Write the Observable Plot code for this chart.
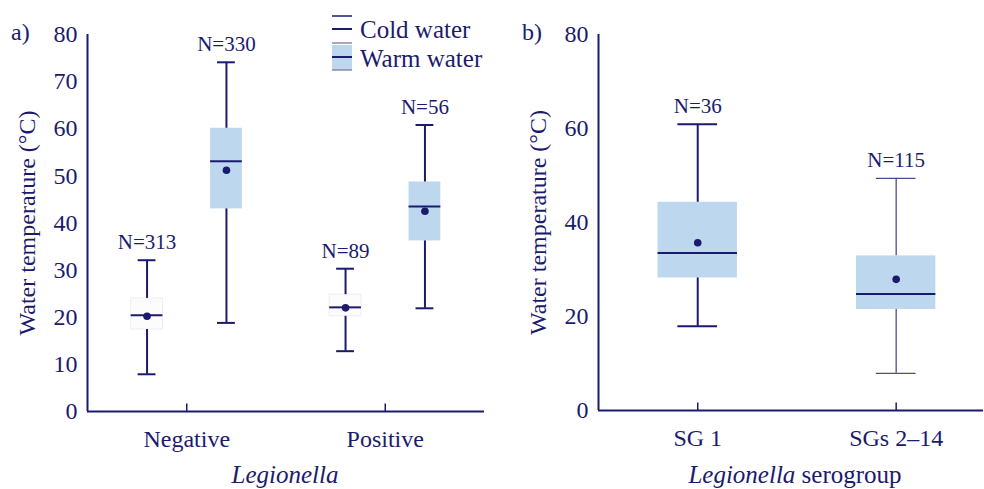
<!DOCTYPE html>
<html>
<head>
<meta charset="utf-8">
<script src="https://cdn.jsdelivr.net/npm/d3@7"></script>
<script src="https://cdn.jsdelivr.net/npm/@observablehq/plot@0.6"></script>
<style>
  html, body { margin: 0; padding: 0; background: #fff; }
  #wrap { position: relative; width: 984px; height: 489px; overflow: hidden; }
  #wrap svg, #wrap svg text, #wrap svg tspan { font-family: "Liberation Serif", "Times New Roman", serif !important; }
  #pa, #pb { position: absolute; top: 0; }
  #pa { left: 0; }
  #pb { left: 490px; }
  #overlay { position: absolute; left: 0; top: 0; pointer-events: none; }
</style>
</head>
<body>
<div id="wrap">
  <div id="pa"></div>
  <div id="pb"></div>
  <svg id="overlay" width="984" height="489"></svg>
</div>
<script>
// ---------- Data: panel a (Legionella negative / positive) ----------
const aCategories = ["Negative", "Positive"];
const aTicks = [0, 10, 20, 30, 40, 50, 60, 70, 80];
// Cold water
const coldMin    = [7.9, 12.8];
const coldQ1     = [17.4, 20.2];
const coldMedian = [20.4, 22.1];
const coldMean   = [20.2, 22.0];
const coldQ3     = [24.0, 24.8];
const coldMax    = [32.1, 30.3];
const coldN      = [313, 89];
// Warm water
const warmMin    = [18.8, 21.9];
const warmQ1     = [43.0, 36.2];
const warmMedian = [53.1, 43.5];
const warmMean   = [51.2, 42.5];
const warmQ3     = [60.1, 48.7];
const warmMax    = [74.1, 60.8];
const warmN      = [330, 56];

// ---------- Data: panel b (serogroup) ----------
const sgCategories = ["SG 1", "SGs 2–14"];
const sgTicks = [0, 20, 40, 60, 80];
const sgMin    = [17.9, 7.9];
const sgQ1     = [28.2, 21.5];
const sgMedian = [33.5, 24.8];
const sgMean   = [35.7, 27.9];
const sgQ3     = [44.3, 32.9];
const sgMax    = [60.9, 49.4];
const sgN      = [36, 115];

const ink = "#1b1b6e";
const blue = "#bdd7ee";
const font = "Liberation Serif";

// ---------- build rows ----------
const aRows = [];
aCategories.forEach((c, i) => {
  aRows.push({cat: c, i, group: "Cold water", off: -0.2, min: coldMin[i], q1: coldQ1[i], median: coldMedian[i], mean: coldMean[i], q3: coldQ3[i], max: coldMax[i], n: coldN[i]});
  aRows.push({cat: c, i, group: "Warm water", off: 0.2, min: warmMin[i], q1: warmQ1[i], median: warmMedian[i], mean: warmMean[i], q3: warmQ3[i], max: warmMax[i], n: warmN[i]});
});
const bRows = sgCategories.map((c, i) => ({cat: c, i, off: 0, min: sgMin[i], q1: sgQ1[i], median: sgMedian[i], mean: sgMean[i], q3: sgQ3[i], max: sgMax[i], n: sgN[i]}));

function boxMarks(rows, hw, cw, opts) {
  const cx = d => d.i + d.off;
  const wStroke = opts.whiskerStroke, wWidth = opts.whiskerWidth;
  return [
    Plot.rect(rows, {x1: d => cx(d) - hw, x2: d => cx(d) + hw, y1: "q1", y2: "q3", fill: opts.fillOf, stroke: opts.boxStroke, strokeWidth: 1}),
    Plot.ruleX(rows, {x: cx, y1: "min", y2: "q1", stroke: wStroke, strokeWidth: wWidth}),
    Plot.ruleX(rows, {x: cx, y1: "q3", y2: "max", stroke: wStroke, strokeWidth: wWidth}),
    Plot.ruleY(rows, {y: "min", x1: d => cx(d) - cw, x2: d => cx(d) + cw, stroke: wStroke, strokeWidth: wWidth}),
    Plot.ruleY(rows, {y: "max", x1: d => cx(d) - cw, x2: d => cx(d) + cw, stroke: wStroke, strokeWidth: wWidth}),
    Plot.ruleY(rows, {y: "median", x1: d => cx(d) - hw, x2: d => cx(d) + hw, stroke: ink, strokeWidth: 2}),
    Plot.dot(rows, {x: cx, y: "mean", r: 3.8, fill: ink, stroke: "none"}),
    Plot.text(rows, {x: cx, y: "max", text: d => "N=" + d.n, dy: -11, lineAnchor: "bottom", fontSize: 21, fill: ink})
  ];
}

// ---------- Panel a ----------
const pa = Plot.plot({
  width: 490, height: 489,
  marginLeft: 87, marginRight: 6, marginTop: 34, marginBottom: 78,
  x: {domain: [-0.5, 1.5], axis: null},
  y: {domain: [0, 80], axis: null},
  style: {fontFamily: font, fontSize: "24px", color: ink, background: "transparent", overflow: "visible"},
  marks: [
    Plot.axisY({ticks: aTicks, tickSize: 0, tickPadding: 10, label: "Water temperature (°C)", labelAnchor: "center", labelArrow: "none", labelOffset: 70, fontSize: 24}),
    Plot.axisX({ticks: aCategories.map((c, i) => i), tickFormat: i => aCategories[i], tickSize: 0, tickPadding: 18, label: null, fontSize: 24}),
    Plot.ruleX([-0.5], {y1: 0, y2: 80, stroke: ink, strokeWidth: 2}),
    Plot.ruleY([0], {stroke: ink, strokeWidth: 2}),
    Plot.ruleX(aCategories.map((c, i) => i), {y1: 0, y2: 1.6, stroke: ink, strokeWidth: 1.5}),
    ...boxMarks(aRows, 0.08, 0.045, {
      fillOf: d => d.group === "Warm water" ? blue : "#fcfcfd",
      boxStroke: d => d.group === "Warm water" ? "none" : "#eeeef3",
      whiskerStroke: ink, whiskerWidth: 2
    })
  ]
});
document.getElementById("pa").appendChild(pa);

// ---------- Panel b ----------
const pb = Plot.plot({
  width: 494, height: 489,
  marginLeft: 108, marginRight: 1, marginTop: 34, marginBottom: 79,
  x: {domain: [-0.5, 1.44], axis: null},
  y: {domain: [0, 80], axis: null},
  style: {fontFamily: font, fontSize: "24px", color: ink, background: "transparent", overflow: "visible"},
  marks: [
    Plot.axisY({ticks: sgTicks, tickSize: 0, tickPadding: 10, label: "Water temperature (°C)", labelAnchor: "center", labelArrow: "none", labelOffset: 70, fontSize: 24}),
    Plot.axisX({ticks: sgCategories.map((c, i) => i), tickFormat: i => sgCategories[i], tickSize: 0, tickPadding: 18, label: null, fontSize: 24}),
    Plot.ruleX([-0.5], {y1: 0, y2: 80, stroke: ink, strokeWidth: 2}),
    Plot.ruleY([0], {stroke: ink, strokeWidth: 2}),
    Plot.ruleX(sgCategories.map((c, i) => i), {y1: 0, y2: 1.6, stroke: ink, strokeWidth: 1.5}),
    ...boxMarks(bRows, 0.2, 0.1, {
      fillOf: () => blue,
      boxStroke: () => "none",
      whiskerStroke: d => d.i === 0 ? ink : "#4d4d88",
      whiskerWidth: d => d.i === 0 ? 2 : 1.3
    })
  ]
});
document.getElementById("pb").appendChild(pb);

// ---------- Overlay: panel letters, legend, x titles ----------
const ov = d3.select("#overlay");
ov.append("text").attr("x", 11).attr("y", 40).attr("font-size", 24).attr("fill", ink).text("a)");
ov.append("text").attr("x", 522).attr("y", 40).attr("font-size", 24).attr("fill", ink).text("b)");

// legend
const lg = ov.append("g");
lg.append("line").attr("x1", 332).attr("x2", 352).attr("y1", 16).attr("y2", 16).attr("stroke", ink).attr("stroke-width", 1.5);
lg.append("line").attr("x1", 332).attr("x2", 352).attr("y1", 29).attr("y2", 29).attr("stroke", ink).attr("stroke-width", 2);
lg.append("line").attr("x1", 332).attr("x2", 352).attr("y1", 43).attr("y2", 43).attr("stroke", "#8a8aa8").attr("stroke-width", 1.5);
lg.append("rect").attr("x", 332).attr("y", 45).attr("width", 20).attr("height", 25).attr("fill", blue);
lg.append("line").attr("x1", 332).attr("x2", 352).attr("y1", 57).attr("y2", 57).attr("stroke", ink).attr("stroke-width", 2);
lg.append("line").attr("x1", 332).attr("x2", 352).attr("y1", 70).attr("y2", 70).attr("stroke", "#8a8aa8").attr("stroke-width", 1.5);
lg.append("text").attr("x", 360).attr("y", 38).attr("font-size", 25).attr("fill", ink).text("Cold water");
lg.append("text").attr("x", 360).attr("y", 67).attr("font-size", 25).attr("fill", ink).text("Warm water");

// x-axis titles
ov.append("text").attr("x", 285).attr("y", 483).attr("text-anchor", "middle").attr("font-size", 25)
  .attr("font-style", "italic").attr("fill", ink).text("Legionella");
const tb = ov.append("text").attr("x", 795).attr("y", 483).attr("text-anchor", "middle").attr("font-size", 25).attr("fill", ink);
tb.append("tspan").attr("font-style", "italic").text("Legionella");
tb.append("tspan").text(" serogroup");
</script>
</body>
</html>
